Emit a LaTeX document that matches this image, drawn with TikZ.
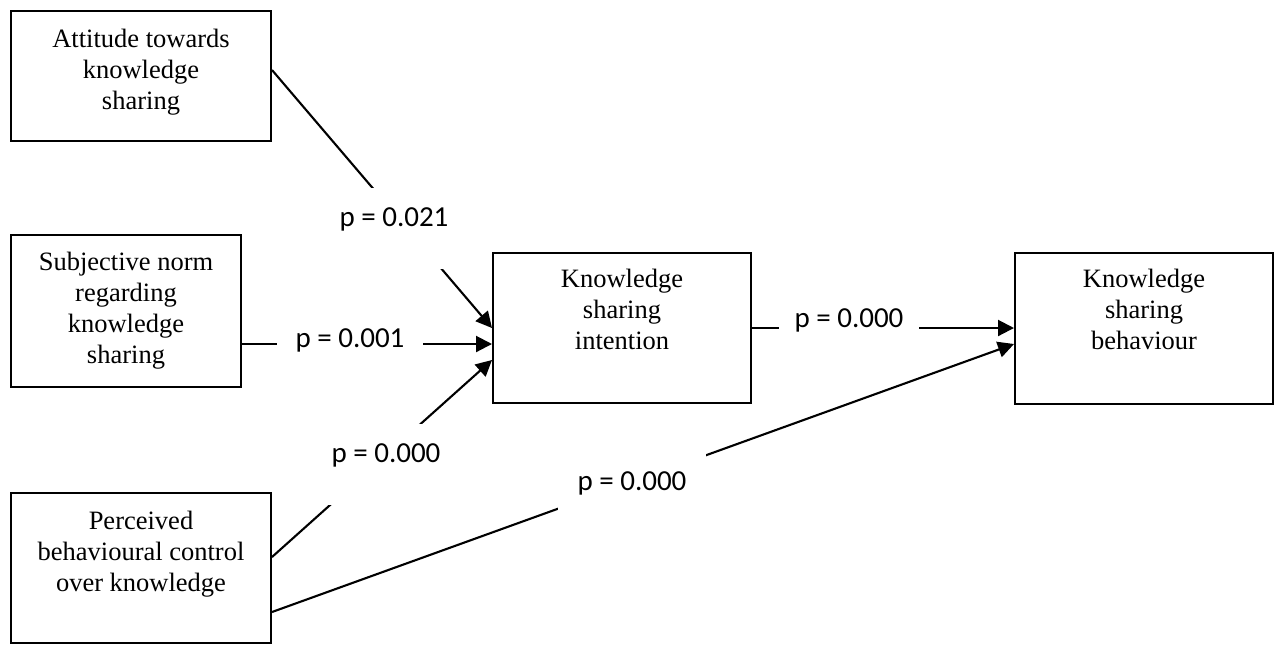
\documentclass[tikz,border=0pt]{standalone}
\usepackage{fontspec}
\setmainfont{Liberation Serif}
\newfontfamily\labfont{Carlito}
\usetikzlibrary{arrows.meta}
\newcommand{\mybox}[4]{\parbox[c][#2][t]{#1}{\centering\rule{0pt}{#3}#4}}
\begin{document}
\begin{tikzpicture}[x=0.5pt,y=-0.5pt,
  box/.style={draw, line width=1pt, inner sep=0pt, font=\fontsize{13.25pt}{15.6pt}\selectfont},
  conn/.style={line width=1.05pt},
  arr/.style={conn, -{Triangle[length=8pt,width=8pt]}},
  lab/.style={fill=white, inner sep=0pt, anchor=base, font=\labfont\fontsize{14.5pt}{17pt}\selectfont}]
\useasboundingbox (0,0) rectangle (1275,645);

% boxes
\node[box] (A) at (141,76)    {\mybox{130pt}{65pt}{18pt}{Attitude towards\\ knowledge\\ sharing}};
\node[box] (S) at (126,311)   {\mybox{115pt}{76pt}{17.5pt}{Subjective norm\\ regarding\\ knowledge\\ sharing}};
\node[box] (P) at (141,568)   {\mybox{130pt}{75pt}{18pt}{Perceived\\ behavioural control\\ over knowledge}};
\node[box] (I) at (622,328)   {\mybox{129pt}{75pt}{17pt}{Knowledge\\ sharing\\ intention}};
\node[box] (B) at (1144,328.5){\mybox{129pt}{75.5pt}{17pt}{Knowledge\\ sharing\\ behaviour}};

% connectors
\draw[arr] ([yshift=3pt]A.east) -- (I.west);
\draw[arr] ([yshift=-16.5pt]S.east) -- ([yshift=-8pt]I.west);
\draw[arr] ([yshift=5.5pt]P.east) -- ([yshift=-16pt]I.west);
\draw[arr] (I.east) -- (I.east -| B.west);
\draw[arr] ([yshift=-22pt]P.east) -- ([yshift=-7.75pt]B.west);

% labels
\node[lab, text height=19pt, text depth=21.5pt] (l1) at (394,226) {p = 0.021};
\node[lab, inner xsep=9.5pt] (l2) at (350,347) {p = 0.001\hspace{5.5pt}};
\node[lab, text height=19pt, text depth=21.5pt, inner xsep=3pt] (l3) at (386,462) {p = 0.000};
\node[lab, inner xsep=8pt] (l4) at (849,327) {p = 0.000};
\node[lab, text height=19pt, text depth=11.5pt, inner xsep=9.75pt] (l5) at (632,490) {p = 0.000\hspace{6pt}};
\end{tikzpicture}
\end{document}
